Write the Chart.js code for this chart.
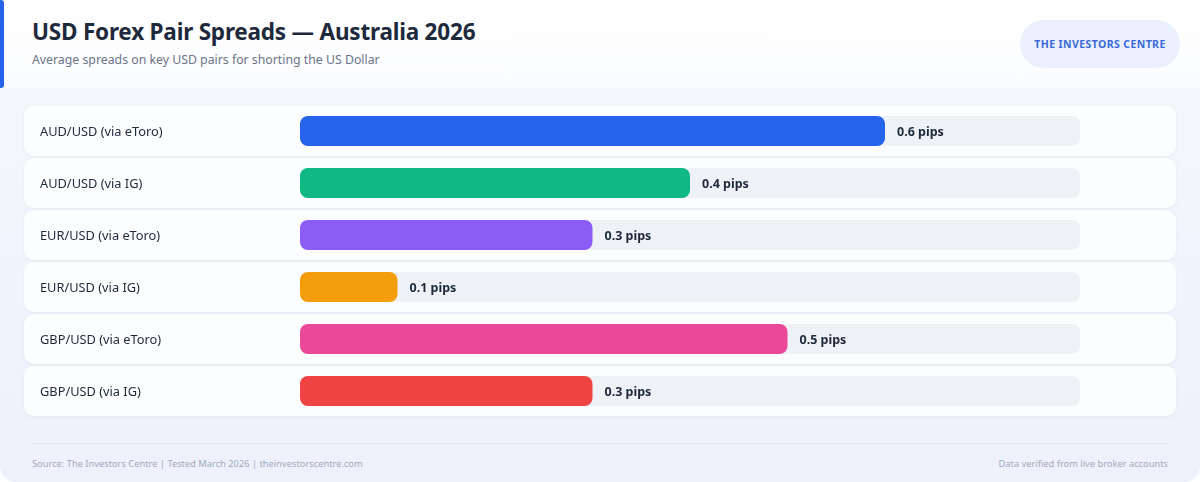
<!DOCTYPE html>
<html>
<head>
<meta charset="utf-8">
<script src="https://cdn.jsdelivr.net/npm/chart.js@4.4.1/dist/chart.umd.min.js"></script>
<style>
  html, body { margin: 0; padding: 0; }
  body { width: 1200px; height: 482px; background: #ffffff; font-family: "Noto Sans", sans-serif; overflow: hidden; }
  .card { position: relative; width: 1200px; height: 482px; background: linear-gradient(180deg, #f6f8fd 0%, #eef1fc 100%); border-radius: 0 0 16px 16px; overflow: hidden; }
  .header { position: absolute; left: 0; top: 0; width: 1200px; height: 88px; background: linear-gradient(180deg, #ffffff 0%, #fbfcfe 100%); }
  .accent { position: absolute; left: 0; top: 0; width: 4px; height: 88px; background: #2563eb; border-radius: 0 3px 3px 0; }
  .title { position: absolute; left: 32px; top: 16px; font-size: 22.5px; font-weight: 700; color: #1e293b; letter-spacing: -0.2px; }
  .subtitle { position: absolute; left: 32px; top: 51px; font-size: 12.3px; color: #6b7489; }
  .badge { position: absolute; left: 1020px; top: 20px; width: 160px; height: 48px; border-radius: 24px; background: #eaf0fd; color: #3b6ad6; font-size: 10.5px; font-weight: 700; letter-spacing: 0.4px; display: flex; align-items: center; justify-content: center; }
  #chartWrap { position: absolute; left: 0; top: 88px; width: 1200px; height: 342px; }
  .rule { position: absolute; left: 32px; top: 443px; width: 1136px; height: 1px; background: #e4e8f4; }
  .foot { position: absolute; top: 457px; font-size: 9.3px; color: #a3a9ba; }
</style>
</head>
<body>
<div class="card">
  <div class="header"></div>
  <div class="accent"></div>
  <div class="title">USD Forex Pair Spreads — Australia 2026</div>
  <div class="subtitle">Average spreads on key USD pairs for shorting the US Dollar</div>
  <div class="badge">THE INVESTORS CENTRE</div>
  <div id="chartWrap"><canvas id="spreadChart" width="1200" height="342"></canvas></div>
  <div class="rule"></div>
  <div class="foot" style="left:32px;">Source: The Investors Centre | Tested March 2026 | theinvestorscentre.com</div>
  <div class="foot" style="right:32px;">Data verified from live broker accounts</div>
</div>
<script>
const pairs = ['AUD/USD (via eToro)', 'AUD/USD (via IG)', 'EUR/USD (via eToro)', 'EUR/USD (via IG)', 'GBP/USD (via eToro)', 'GBP/USD (via IG)'];
const spreads = [0.6, 0.4, 0.3, 0.1, 0.5, 0.3];
const barColors = ['#2563eb', '#10b981', '#8b5cf6', '#f59e0b', '#ec4899', '#ef4444'];
const scaleMax = 0.8;
const unit = 'pips';

// row cards + left labels + value labels
const rowPlugin = {
    id: 'rows',
    beforeDatasetsDraw(chart) {
        const ctx = chart.ctx;
        const y = chart.scales.y;
        ctx.save();
        pairs.forEach((p, i) => {
            const cy = y.getPixelForValue(i);
            ctx.shadowColor = 'rgba(30,41,80,0.05)';
            ctx.shadowBlur = 4;
            ctx.shadowOffsetY = 1;
            ctx.fillStyle = '#fcfdff';
            ctx.beginPath();
            ctx.roundRect(24, cy - 25, 1152, 50, 10);
            ctx.fill();
            ctx.shadowColor = 'transparent';
            ctx.fillStyle = '#1e293b';
            ctx.font = '12.8px "Noto Sans"';
            ctx.textBaseline = 'middle';
            ctx.textAlign = 'left';
            ctx.fillText(p, 40, cy + 1);
        });
        ctx.restore();
    },
    afterDatasetsDraw(chart) {
        const ctx = chart.ctx;
        const meta = chart.getDatasetMeta(1);
        ctx.save();
        ctx.fillStyle = '#1e293b';
        ctx.font = 'bold 12.5px "Noto Sans"';
        ctx.textBaseline = 'middle';
        ctx.textAlign = 'left';
        meta.data.forEach((bar, i) => {
            ctx.fillText(spreads[i] + ' ' + unit, bar.x + 12, bar.y + 1);
        });
        ctx.restore();
    }
};

new Chart(document.getElementById('spreadChart'), {
    type: 'bar',
    data: {
        labels: pairs,
        datasets: [
            {
                data: pairs.map(() => scaleMax),
                backgroundColor: '#eef1f6',
                borderRadius: 8,
                borderSkipped: false,
                grouped: false,
                order: 2
            },
            {
                data: spreads,
                backgroundColor: barColors,
                borderRadius: 8,
                borderSkipped: false,
                grouped: false,
                order: 1
            }
        ]
    },
    options: {
        indexAxis: 'y',
        responsive: false,
        animation: false,
        devicePixelRatio: 1,
        layout: { padding: { left: 300, right: 120, top: 17, bottom: 13 } },
        categoryPercentage: 1,
        barPercentage: 30 / 52,
        scales: {
            x: { display: false, min: 0, max: scaleMax },
            y: { display: false }
        },
        plugins: { legend: { display: false }, tooltip: { enabled: false } }
    },
    plugins: [rowPlugin]
});
</script>
</body>
</html>
